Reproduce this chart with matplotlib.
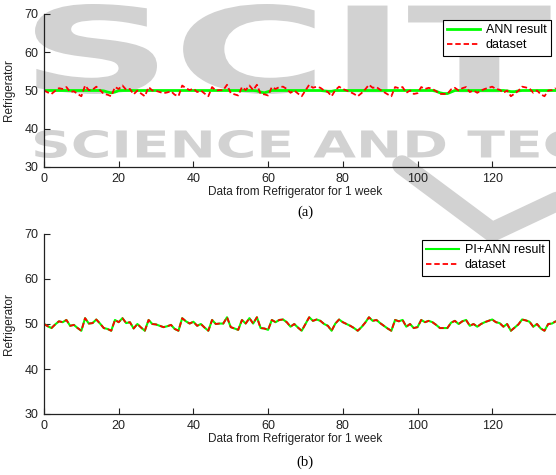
import numpy as np
import matplotlib
matplotlib.use('Agg')
import matplotlib.pyplot as plt
from matplotlib.textpath import TextPath
from matplotlib.patches import PathPatch
from matplotlib.font_manager import FontProperties
from matplotlib.transforms import Affine2D

# hourly refrigerator readings over one week
dataset = [
    50.0, 49.5, 49.1, 49.9, 50.6, 50.4, 50.9, 49.6, 49.8, 49.1,
    48.5, 51.3, 50.1, 50.2, 51.0, 50.1, 49.1, 48.9, 48.5, 50.9,
    50.4, 51.3, 50.2, 50.4, 49.0, 50.0, 49.2, 48.5, 50.9, 50.0,
    49.9, 49.6, 49.3, 49.5, 49.8, 48.9, 48.5, 51.3, 50.6, 50.1,
    50.5, 49.6, 50.0, 49.2, 48.5, 50.9, 50.0, 50.1, 50.1, 51.5,
    49.3, 49.0, 48.7, 50.9, 50.1, 51.3, 50.1, 51.5, 49.1, 49.0,
    48.7, 50.9, 50.4, 50.9, 51.0, 50.4, 49.4, 50.0, 49.2, 48.5,
    50.0, 51.5, 50.7, 51.0, 50.7, 50.0, 49.6, 48.5, 50.1, 51.0,
    50.4, 50.0, 49.6, 49.1, 48.5, 49.3, 50.3, 51.5, 50.7, 50.9,
    50.2, 49.6, 49.0, 48.5, 50.9, 50.6, 50.9, 49.4, 50.0, 49.1,
    49.3, 50.9, 50.4, 50.7, 50.4, 49.8, 49.1, 49.1, 49.1, 50.3,
    50.7, 50.0, 50.6, 50.9, 49.6, 50.0, 49.4, 50.0, 50.4, 50.7,
    51.0, 50.4, 50.2, 49.4, 50.0, 48.5, 49.2, 49.9, 51.0, 50.8,
    50.5, 49.4, 50.0, 49.0, 48.5, 50.0, 50.1, 50.6,
]

# plain ANN prediction
ann_result = [
    50.0, 50.0, 50.0, 50.0, 50.0, 50.0, 50.0, 50.0, 50.0, 50.0,
    50.0, 50.0, 50.0, 50.0, 50.0, 50.0, 49.9, 49.6, 49.4, 49.6,
    50.0, 50.0, 50.0, 50.0, 50.0, 50.0, 50.0, 50.0, 50.0, 50.0,
    50.0, 50.0, 50.0, 50.0, 50.0, 50.0, 50.0, 50.0, 50.0, 50.0,
    50.0, 50.0, 50.0, 50.0, 50.0, 50.0, 50.0, 50.0, 50.0, 50.0,
    50.0, 50.0, 50.0, 50.0, 50.0, 50.0, 50.0, 49.9, 49.6, 49.4,
    49.7, 50.0, 50.0, 50.0, 50.0, 50.0, 50.0, 50.0, 50.0, 50.0,
    50.0, 50.0, 50.0, 50.0, 50.0, 49.9, 49.8, 49.8, 50.0, 50.0,
    50.0, 50.0, 50.0, 50.0, 50.0, 50.0, 50.0, 50.0, 50.0, 50.0,
    50.0, 50.0, 50.0, 50.0, 50.0, 50.0, 50.0, 50.0, 50.0, 50.0,
    50.0, 50.0, 50.0, 50.0, 50.0, 49.8, 49.4, 49.2, 49.2, 49.6,
    50.0, 50.0, 50.0, 50.0, 50.0, 50.0, 50.0, 50.0, 50.0, 50.0,
    50.0, 50.0, 50.0, 50.0, 49.9, 49.7, 49.7, 49.9, 50.0, 50.0,
    50.0, 50.0, 50.0, 50.0, 50.0, 50.0, 50.0, 50.0,
]

# PI+ANN output follows the measured data almost exactly
pi_ann_result = list(dataset)

hours = np.arange(len(dataset))
x_ticks = [0, 20, 40, 60, 80, 100, 120]
y_ticks = [30, 40, 50, 60, 70]

W, H = 556, 475
plt.rcParams['font.family'] = ['Liberation Sans', 'DejaVu Sans']
fig = plt.figure(figsize=(W / 100, H / 100), dpi=100)

WM_COLOR = '#d2d2d2'


def watermark(text, ref, x0, top, ref_w, cap_h):
    # stretched block letters placed in pixel coordinates
    fp = FontProperties(family='DejaVu Sans', weight='bold')
    rb = TextPath((0, 0), ref, size=100, prop=fp).get_extents()
    path = TextPath((0, 0), text, size=100, prop=fp)
    sx = ref_w / rb.width
    sy = cap_h / rb.height
    tr = Affine2D().translate(-rb.x0, -rb.y0).scale(sx, sy).translate(x0, H - top - cap_h)
    fig.add_artist(PathPatch(path, facecolor=WM_COLOR, edgecolor='none',
                             transform=tr, zorder=-5))


watermark('SCITE', 'S', 35, 4, 122, 90)
watermark('SCIENCE AND TECHNOLOGY', 'SCIENCE', 35, 130, 255, 28)
fig.add_artist(plt.Line2D([402, 492, 560], [H - 165, H - 232, H - 200],
                          transform=None, color=WM_COLOR, lw=14,
                          solid_capstyle='round', solid_joinstyle='round', zorder=-5))

ax1 = fig.add_axes([44 / W, 1 - 167 / H, 511.7 / W, 153 / H])
ax2 = fig.add_axes([44 / W, 1 - 414 / H, 511.7 / W, 180 / H])

ax1.plot(hours, ann_result, color='#00ff00', lw=2.0, label='ANN result')
ax1.plot(hours, dataset, color='#ff0000', lw=1.3, ls=(0, (3, 1.6)), label='dataset')
ax2.plot(hours, pi_ann_result, color='#00ff00', lw=1.5, label='PI+ANN result')
ax2.plot(hours, dataset, color='#ff0000', lw=1.3, ls=(0, (3, 1.6)), label='dataset')

for ax, h_px, anchor, lab_y in [(ax1, 153, (0.991, 0.961), -0.163),
                                (ax2, 180, (0.987, 0.967), -0.139)]:
    ax.set_facecolor('none')
    ax.set_xlim(0, 137)
    ax.set_ylim(30, 70)
    ax.set_xticks(x_ticks)
    ax.set_yticks(y_ticks)
    ax.tick_params(direction='in', length=4, width=0.8, labelsize=9,
                   colors='#222222', pad=4)
    for side in ['top', 'right']:
        ax.spines[side].set_visible(False)
    for side in ['left', 'bottom']:
        ax.spines[side].set_linewidth(0.9)
        ax.spines[side].set_color('#222222')
    ax.set_xlabel('Data from Refrigerator for 1 week', fontsize=8.5, color='#222222')
    ax.xaxis.set_label_coords(0.49, lab_y)
    ax.xaxis.label.set_va('center')
    ax.set_ylabel('Refrigerator', fontsize=8.5, color='#222222')
    ax.yaxis.set_label_coords(-29 / 511.7, 0.5)
    leg = ax.legend(loc='upper right', bbox_to_anchor=anchor, fontsize=9,
                    frameon=True, fancybox=False, framealpha=1,
                    edgecolor='black', handlelength=2.6, handletextpad=0.5,
                    borderpad=0.35, labelspacing=0.25, borderaxespad=0)
    leg.get_frame().set_linewidth(0.8)

fig.text(305 / W, 1 - 212 / H, '(a)', family='Liberation Serif', fontsize=10.5,
         ha='center', va='center')
fig.text(305 / W, 1 - 462 / H, '(b)', family='Liberation Serif', fontsize=10.5,
         ha='center', va='center')

fig.savefig('out.png', dpi=100)
